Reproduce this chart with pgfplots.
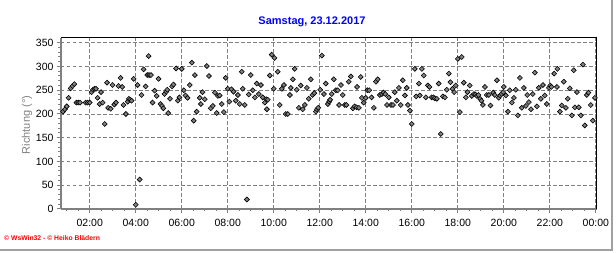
\documentclass[border=0pt]{standalone}
\usepackage{fontspec}
\setmainfont{Liberation Sans}
\usepackage{pgfplots}
\usepackage{pgfplotstable}
\pgfplotsset{compat=1.18}
\definecolor{axgray}{RGB}{128,128,128}
\definecolor{titleblue}{RGB}{0,0,255}
\definecolor{credred}{RGB}{255,0,0}
\definecolor{framegray}{RGB}{160,160,160}
\definecolor{markgray}{RGB}{128,128,128}

\pgfplotstableread{
h v
0.84 205
0.92 210
1.00 216
1.08 234
1.17 254
1.25 259
1.33 263
1.42 224
1.50 224
1.58 224
1.82 224
1.91 224
2.00 224
2.08 246
2.14 251
2.20 253
2.27 253
2.34 234
2.43 221
2.49 246
2.56 224
2.65 179
2.75 266
2.80 213
2.91 211
2.99 261
3.07 220
3.14 224
3.25 259
3.34 276
3.41 257
3.47 219
3.57 200
3.65 226
3.70 232
3.76 230
3.82 228
3.91 274
4.00 9
4.08 261
4.17 62
4.25 240
4.34 294
4.43 258
4.50 282
4.56 322
4.58 282
4.66 282
4.73 224
4.82 249
4.91 238
4.99 274
5.08 221
5.14 217
5.20 212
5.25 242
5.33 247
5.37 251
5.41 202
5.49 232
5.58 258
5.64 262
5.75 296
5.83 228
5.90 235
6.00 295
6.09 250
6.16 239
6.25 234
6.35 261
6.44 308
6.52 186
6.57 282
6.65 205
6.78 234
6.83 221
6.90 246
7.00 231
7.09 301
7.18 280
7.26 212
7.35 217
7.44 245
7.52 202
7.57 238
7.65 239
7.74 221
7.83 204
7.91 276
8.00 253
8.07 226
8.16 252
8.25 247
8.35 228
8.44 240
8.52 221
8.61 289
8.65 253
8.74 219
8.83 20
8.91 241
9.00 282
9.09 250
9.18 235
9.26 264
9.35 242
9.44 261
9.52 235
9.61 224
9.67 231
9.70 210
9.74 230
9.83 281
9.91 325
10.00 253
10.03 318
10.17 289
10.26 219
10.35 253
10.44 261
10.52 200
10.61 200
10.70 240
10.74 255
10.83 273
10.91 295
11.00 251
11.09 213
11.17 260
11.26 210
11.35 219
11.44 255
11.52 232
11.61 273
11.68 240
11.76 244
11.83 205
11.88 210
11.93 213
12.02 251
12.09 323
12.18 242
12.26 264
12.35 221
12.41 226
12.45 230
12.52 242
12.61 273
12.70 250
12.78 250
12.84 219
12.92 261
13.00 240
13.09 219
13.16 219
13.26 268
13.35 279
13.44 212
13.51 216
13.60 214
13.62 257
13.70 213
13.78 278
13.83 234
13.91 224
14.00 234
14.07 250
14.15 250
14.25 235
14.35 213
14.44 268
14.52 273
14.61 240
14.70 242
14.77 245
14.85 242
14.92 219
15.00 235
15.10 219
15.18 219
15.26 246
15.35 228
15.44 255
15.52 219
15.61 271
15.70 239
15.78 255
15.83 219
15.92 207
16.00 179
16.13 295
16.19 237
16.31 264
16.35 239
16.44 295
16.52 281
16.61 235
16.70 260
16.77 257
16.86 235
16.94 235
17.00 233
17.09 232
17.17 264
17.26 158
17.35 237
17.44 235
17.52 251
17.61 285
17.68 267
17.77 253
17.84 246
17.91 260
18.00 316
18.09 204
18.17 320
18.26 266
18.35 235
18.42 246
18.52 260
18.61 238
18.70 242
18.77 241
18.83 238
18.90 240
18.97 232
19.03 228
19.09 219
19.18 257
19.26 240
19.35 240
19.42 218
19.54 245
19.61 240
19.70 271
19.78 234
19.84 239
19.91 242
19.97 246
20.00 257
20.09 239
20.18 205
20.26 250
20.35 224
20.44 234
20.52 251
20.61 197
20.70 276
20.78 213
20.87 255
20.96 217
21.02 240
21.09 225
21.18 210
21.26 242
21.35 287
21.44 216
21.52 255
21.61 232
21.70 261
21.78 239
21.87 221
21.96 255
22.02 260
22.07 257
22.19 285
22.31 257
22.33 295
22.44 205
22.52 218
22.61 268
22.70 213
22.78 232
22.87 254
22.96 197
23.04 292
23.09 214
23.18 246
23.26 214
23.35 197
23.44 304
23.52 176
23.61 240
23.68 245
23.78 219
23.87 186
23.96 234
}\data

\begin{document}
\begin{tikzpicture}
\useasboundingbox (0,0) rectangle (616pt,253pt);
\fill[white] (0,0) rectangle (616pt,253pt);
\begin{axis}[
  at={(61pt,44pt)}, anchor=south west,
  scale only axis, width=535.5pt, height=171pt,
  xmin=0.75, xmax=24.03, ymin=0, ymax=360,
  axis x line*=bottom, axis y line*=left,
  x axis line style={axgray, line width=2pt},
  y axis line style={axgray, line width=2.5pt},
  xtick={2,4,...,24},
  xticklabels={02:00,04:00,06:00,08:00,10:00,12:00,14:00,16:00,18:00,20:00,22:00,00:00},
  minor xtick={1,1.5,...,24},
  ytick={0,50,...,350},
  minor ytick={10,20,...,350},
  tick align=outside,
  major tick length=4pt, minor tick length=2.5pt,
  every tick/.style={axgray, line width=1pt},
  grid=major,
  major grid style={axgray, dash pattern=on 3.5pt off 2.5pt, line width=0.8pt},
  tick label style={font=\fontsize{10.5}{12}\selectfont},
  xticklabel style={yshift=-2.5pt},
  /pgf/number format/assume math mode=true,
  clip=false,
]
\addplot[only marks, mark=square*, mark size=1.75pt,
  mark options={rotate=45, fill=markgray, draw=black, line width=0.6pt}]
  table[x=h,y=v]{\data};
\draw[black, line width=1pt] (rel axis cs:0,1) -- (rel axis cs:1,1) -- (rel axis cs:1,0);
\end{axis}
\node[rotate=90, color=axgray, font=\fontsize{11}{13}\selectfont] at (27pt,128pt) {Richtung (°)};
\node[titleblue, font=\bfseries\fontsize{11}{13}\selectfont] at (312pt,231pt) {Samstag, 23.12.2017};
\node[credred, anchor=west, inner sep=0pt, font=\bfseries\fontsize{6.8}{8}\selectfont] at (4pt,15pt) {© WsWin32 - © Heiko Blädern};
\draw[framegray, line width=1.5pt] (0,3pt) -- (612pt,3pt) -- (612pt,253pt);
\end{tikzpicture}
\end{document}
